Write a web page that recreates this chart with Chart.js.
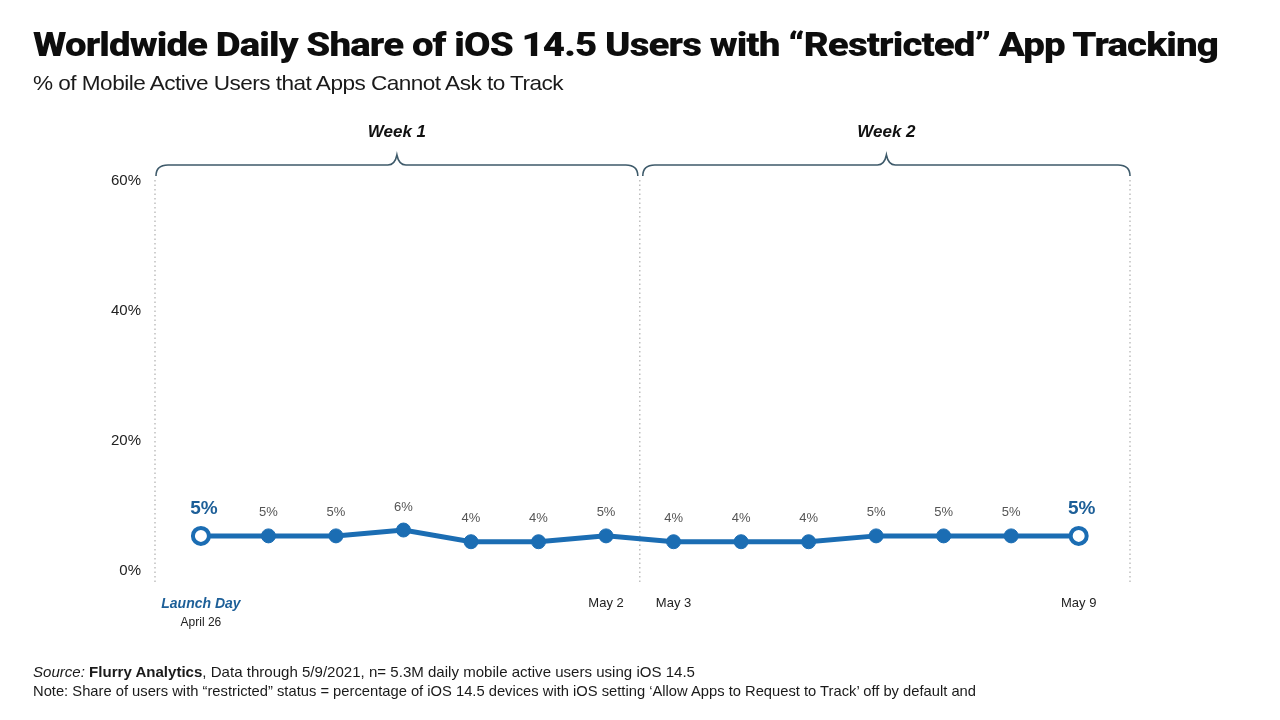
<!DOCTYPE html>
<html>
<head>
<meta charset="utf-8">
<script src="https://cdn.jsdelivr.net/npm/chart.js@4.4.1/dist/chart.umd.min.js"></script>
<style>
  body { margin: 0; background: #fff; }
  #wrap { position: relative; width: 1280px; height: 720px; overflow: hidden; font-family: "Liberation Sans", Arial, sans-serif; color: #111; }
  #canvas { position: absolute; left: 0; top: 0; }
  .txt { position: absolute; white-space: nowrap; transform-origin: 0 0; }
  #title { left: 33px; top: 24px; font-family: Roboto, "Liberation Sans", sans-serif; font-weight: 900; font-size: 34px; line-height: 40px; letter-spacing: -0.8px; color: #0d0d0d; }
  #subtitle { left: 33px; top: 71px; font-size: 21px; letter-spacing: -0.5px; color: #1a1a1a; }
  #source { left: 33px; top: 663px; font-size: 15px; color: #1a1a1a; }
  #note { left: 33px; top: 682px; font-size: 15px; color: #1a1a1a; }
</style>
</head>
<body>
<div id="wrap">
  <canvas id="canvas" width="1280" height="720"></canvas>
  <div class="txt" id="title" data-w="1185">Worldwide Daily Share of iOS 14.5 Users with “Restricted” App Tracking</div>
  <div class="txt" id="subtitle" data-w="530">% of Mobile Active Users that Apps Cannot Ask to Track</div>
  <div class="txt" id="source" data-w="662"><i>Source:</i> <b>Flurry Analytics</b>, Data through 5/9/2021, n= 5.3M daily mobile active users using iOS 14.5</div>
  <div class="txt" id="note" data-w="943">Note: Share of users with “restricted” status = percentage of iOS 14.5 devices with iOS setting ‘Allow Apps to Request to Track’ off by default and</div>
</div>
<script>
const days = ["April 26", "April 27", "April 28", "April 29", "April 30", "May 1", "May 2",
              "May 3", "May 4", "May 5", "May 6", "May 7", "May 8", "May 9"];
const restrictedShare = [5.4, 5.4, 5.4, 6.3, 4.5, 4.5, 5.4, 4.5, 4.5, 4.5, 5.4, 5.4, 5.4, 5.4];
const shareLabels = ["5%", "5%", "5%", "6%", "4%", "4%", "5%", "4%", "4%", "4%", "5%", "5%", "5%", "5%"];
const shownDays = [0, 6, 7, 13];
const weeks = ["Week 1", "Week 2"];
const yTicks = [0, 20, 40, 60];

const BLUE = "#1b6db3";
const DARK_BLUE = "#1d5f98";
const lastIdx = restrictedShare.length - 1;
const isEnd = (i) => i === 0 || i === lastIdx;

// fit the html texts to the widths seen in the picture
document.querySelectorAll(".txt").forEach((el) => {
  const w = el.getBoundingClientRect().width;
  el.style.transform = "scaleX(" + (Number(el.dataset.w) / w) + ")";
});

const overlay = {
  id: "overlay",
  beforeDatasetsDraw(chart) {
    const { ctx, chartArea } = chart;
    const x = chart.scales.x;
    const split = x.getPixelForValue(6.5);
    ctx.save();
    // dotted week separators
    ctx.strokeStyle = "#b5b5b5";
    ctx.lineWidth = 1.3;
    ctx.setLineDash([1.5, 3]);
    [chartArea.left, split, chartArea.right].forEach((px) => {
      ctx.beginPath();
      ctx.moveTo(px, chartArea.top);
      ctx.lineTo(px, chartArea.bottom);
      ctx.stroke();
    });
    ctx.setLineDash([]);
    // week braces
    ctx.strokeStyle = "#3e5a6a";
    ctx.lineWidth = 1.6;
    const spans = [[chartArea.left + 1, split - 2], [split + 3, chartArea.right]];
    spans.forEach(([x0, x1], k) => {
      const mid = (x0 + x1) / 2;
      const yl = 165, ye = 176, yt = 155;
      ctx.beginPath();
      ctx.moveTo(x0, ye);
      ctx.quadraticCurveTo(x0, yl, x0 + 12, yl);
      ctx.lineTo(mid - 9, yl);
      ctx.quadraticCurveTo(mid - 2, yl, mid, yt);
      ctx.quadraticCurveTo(mid + 2, yl, mid + 9, yl);
      ctx.lineTo(x1 - 12, yl);
      ctx.quadraticCurveTo(x1, yl, x1, ye);
      ctx.stroke();
      ctx.fillStyle = "#111";
      ctx.font = "italic bold 17px 'Liberation Sans', Arial, sans-serif";
      ctx.textAlign = "center";
      ctx.textBaseline = "middle";
      ctx.fillText(weeks[k], mid, 132);
    });
    // day labels under the axis
    ctx.textAlign = "center";
    ctx.textBaseline = "middle";
    shownDays.forEach((i) => {
      const px = x.getPixelForValue(i);
      if (i === 0) {
        ctx.fillStyle = DARK_BLUE;
        ctx.font = "italic bold 14px 'Liberation Sans', Arial, sans-serif";
        ctx.fillText("Launch Day", px, 604);
        ctx.fillStyle = "#222";
        ctx.font = "12px 'Liberation Sans', Arial, sans-serif";
        ctx.fillText(days[i], px, 623);
      } else {
        ctx.fillStyle = "#222";
        ctx.font = "13px 'Liberation Sans', Arial, sans-serif";
        ctx.fillText(days[i], px, 603);
      }
    });
    ctx.restore();
  },
  afterDatasetsDraw(chart) {
    const { ctx } = chart;
    const meta = chart.getDatasetMeta(0);
    ctx.save();
    ctx.textAlign = "center";
    ctx.textBaseline = "middle";
    meta.data.forEach((pt, i) => {
      if (isEnd(i)) {
        ctx.fillStyle = DARK_BLUE;
        ctx.font = "bold 19px 'Liberation Sans', Arial, sans-serif";
        ctx.fillText(shareLabels[i], pt.x + 3, pt.y - 27);
      } else {
        ctx.fillStyle = "#555";
        ctx.font = "13px 'Liberation Sans', Arial, sans-serif";
        ctx.fillText(shareLabels[i], pt.x, pt.y - 23);
      }
    });
    ctx.restore();
  },
};

const config = {
  type: "line",
  data: {
    datasets: [
      {
        label: "Restricted share",
        data: restrictedShare.map((v, i) => ({ x: i, y: v })),
        borderColor: BLUE,
        borderWidth: 5,
        pointRadius: (c) => (isEnd(c.dataIndex) ? 8 : 7),
        pointBackgroundColor: (c) => (isEnd(c.dataIndex) ? "#fff" : BLUE),
        pointBorderColor: BLUE,
        pointBorderWidth: (c) => (isEnd(c.dataIndex) ? 4 : 1),
        tension: 0,
      },
    ],
  },
  options: {
    responsive: false,
    animation: false,
    devicePixelRatio: 1,
    layout: { padding: { left: 0, top: 180, right: 150, bottom: 137 } },
    plugins: {
      legend: { display: false },
      tooltip: { enabled: false },
    },
    scales: {
      x: {
        type: "linear",
        display: false,
        min: -0.68,
        max: 13.76,
      },
      y: {
        min: -1.85,
        max: 60.15,
        afterBuildTicks: (scale) => {
          scale.ticks = yTicks.map((v) => ({ value: v }));
        },
        afterFit: (scale) => {
          scale.width = 155;
        },
        grid: { display: false, drawTicks: false },
        border: { display: false },
        ticks: {
          padding: 14,
          color: "#222",
          font: { family: "'Liberation Sans', Arial, sans-serif", size: 15 },
          callback: (v) => v + "%",
        },
      },
    },
  },
  plugins: [overlay],
};

window.onload = function () {
  const ctx = document.getElementById("canvas").getContext("2d");
  new Chart(ctx, config);
};
</script>
</body>
</html>
